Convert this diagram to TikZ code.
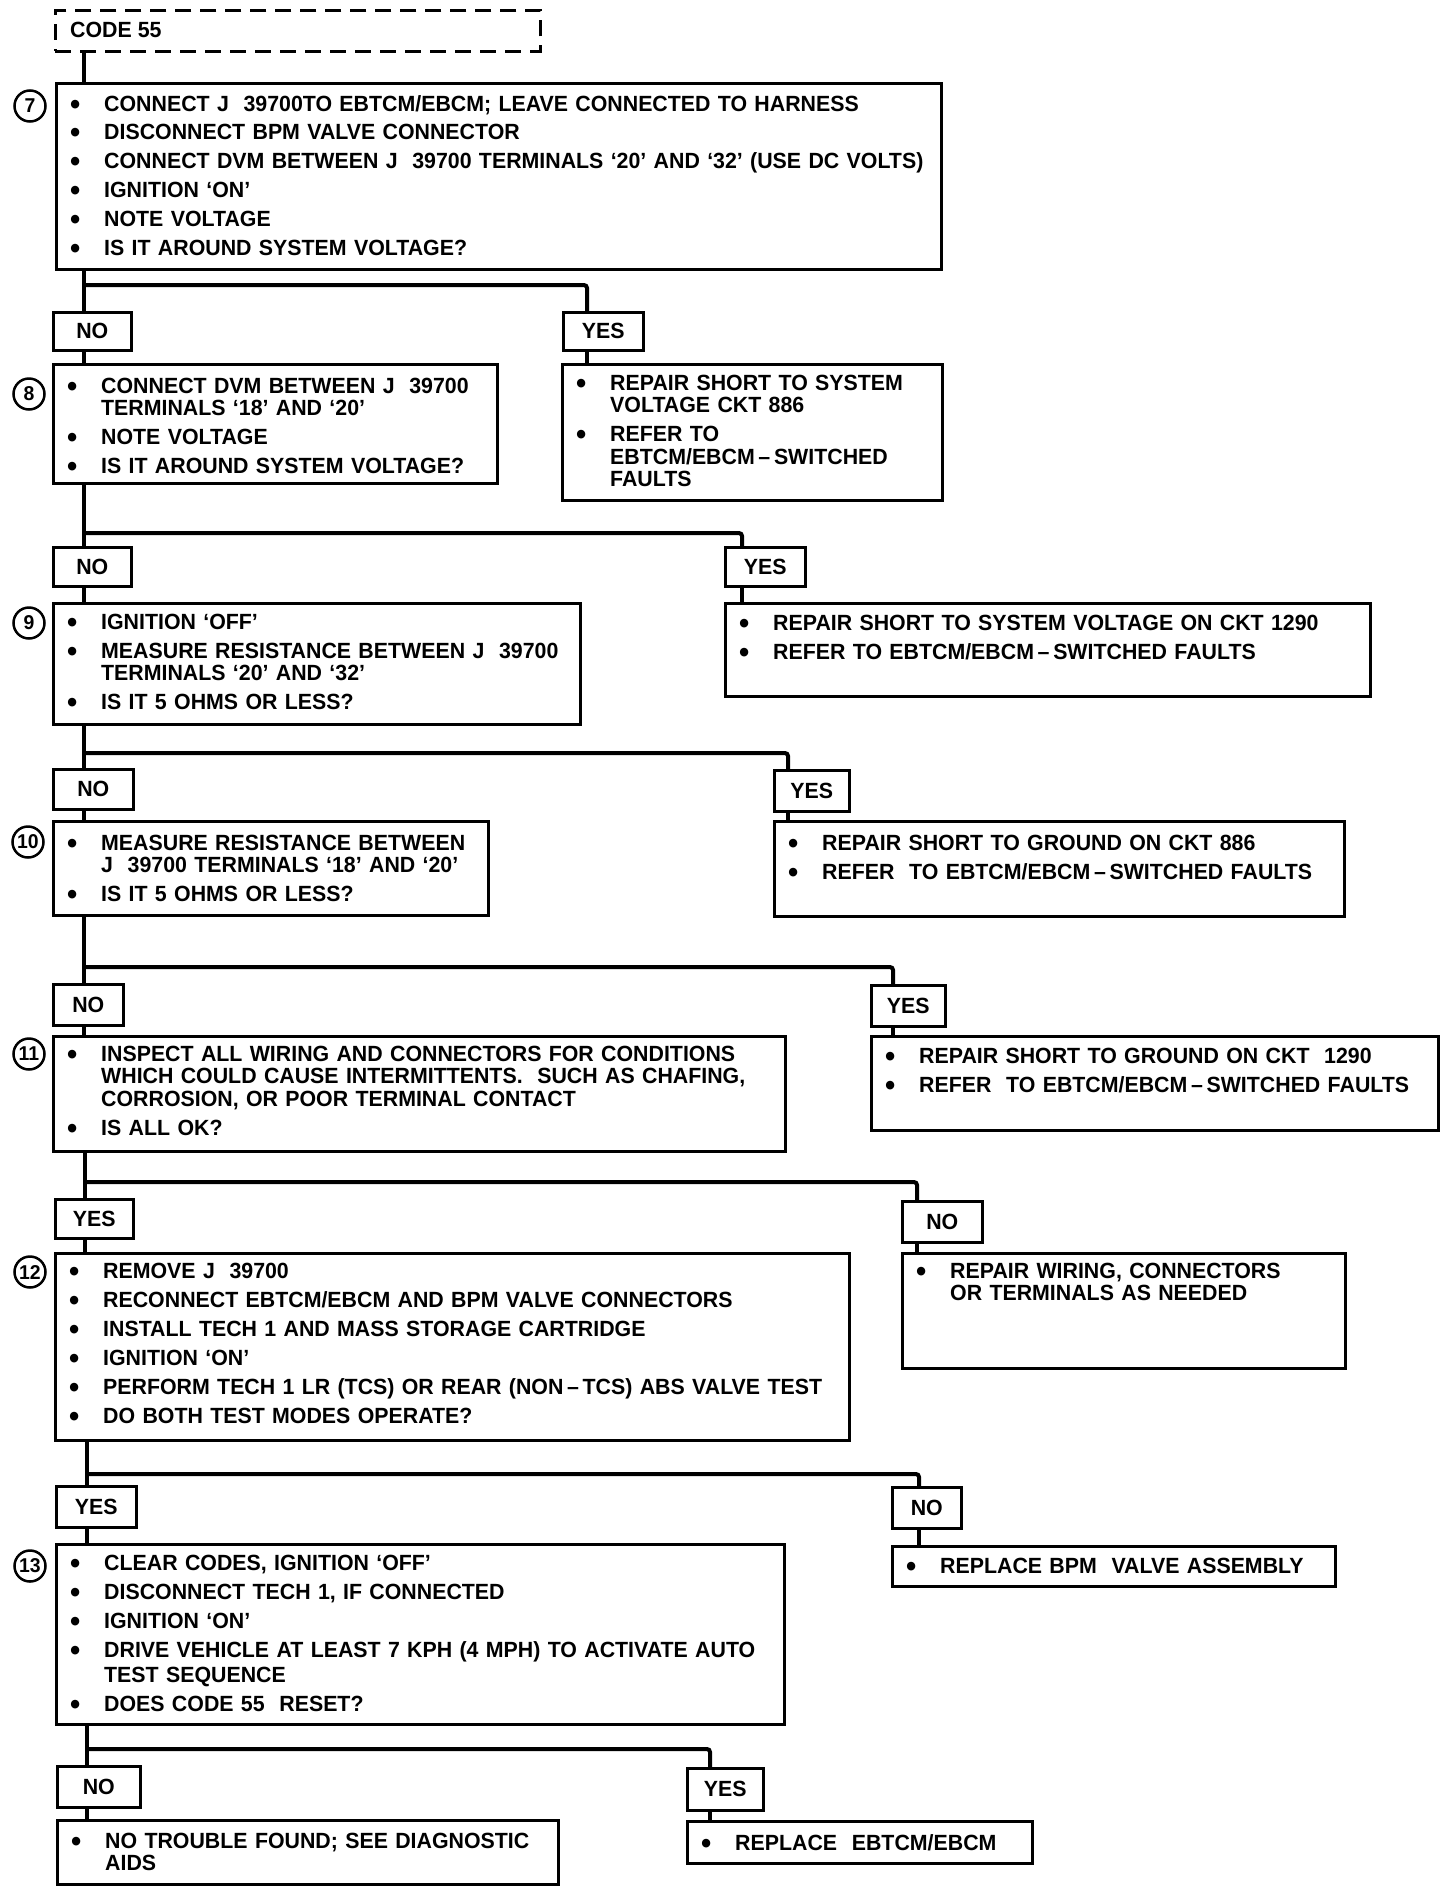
\documentclass[tikz,border=0pt]{standalone}
\usepackage{fontspec}
\setmainfont{Liberation Sans}[BoldFeatures={FakeStretch=0.97}]
\usetikzlibrary{calc}
\newcommand{\fcbul}{\makebox[34pt][l]{\raisebox{-3pt}{\fontsize{30}{22.5}\selectfont\textbullet}}}
\newcommand{\fcind}{\hspace*{34pt}}
\newcommand{\fcdash}{\,–\,}
\tikzset{
 box/.style={draw, line width=2.6pt, inner sep=0pt, anchor=north west, rectangle},
 lbl/.style={box, font=\fontsize{22}{22.5}\selectfont\bfseries},
 txt/.style={anchor=base west, inner sep=0pt, align=left, font=\fontsize{22}{22.5}\selectfont\bfseries},
 conn/.style={line width=4pt, rounded corners=3pt},
 num/.style={circle, draw, line width=2.5pt, minimum size=31pt, inner sep=0pt, font=\fontsize{20}{20}\selectfont\bfseries},
}
\newcommand{\fcbox}[5]{\node[box, minimum width=#4pt, minimum height=#5pt] (#1) at (#2,#3) {};}
\newcommand{\fclbl}[6]{\node[lbl, minimum width=#4pt, minimum height=#5pt] (#1) at (#2,#3) {#6};}
\newcommand{\fctxt}[5]{\node[txt, text width=#3pt] (#1) at ($(#2.north west)+(15,#4)$) {#5};}
\begin{document}
\begin{tikzpicture}[x=1pt, y=-1pt]
\useasboundingbox (0,0) rectangle (1456,1896);
\fill[white] (0,0) rectangle (1456,1896);

% start
\node[box, dash pattern=on 16pt off 9pt, minimum width=485pt, minimum height=41pt] (code) at (54,9) {};
\node[txt] (codet) at (70,37) {CODE 55};

% boxes
\fcbox{b7}{55}{82}{885}{186}
\fclbl{no1}{52}{311}{78}{38}{NO}
\fclbl{yes1}{562}{311}{80}{38}{YES}
\fcbox{b8}{52}{363}{444}{119}
\fcbox{r8}{561}{363}{380}{136}
\fclbl{no2}{52}{546}{78}{39}{NO}
\fclbl{yes2}{724}{546}{80}{39}{YES}
\fcbox{b9}{52}{602}{527}{121}
\fcbox{r9}{724}{602}{645}{93}
\fclbl{no3}{52}{768}{80}{40}{NO}
\fclbl{yes3}{773}{769}{75}{41}{YES}
\fcbox{b10}{52}{820}{435}{94}
\fcbox{r10}{773}{820}{570}{95}
\fclbl{no4}{52}{983}{70}{41}{NO}
\fclbl{yes4}{870}{984}{74}{41}{YES}
\fcbox{b11}{52}{1035}{732}{115}
\fcbox{r11}{870}{1035}{567}{94}
\fclbl{yes5}{54}{1198}{78}{39}{YES}
\fclbl{no5}{901}{1200}{80}{41}{NO}
\fcbox{b12}{54}{1252}{794}{187}
\fcbox{r12}{901}{1252}{443}{115}
\fclbl{yes6}{55}{1485}{80}{41}{YES}
\fclbl{no6}{891}{1486}{69}{41}{NO}
\fcbox{b13}{55}{1543}{728}{180}
\fcbox{r13}{891}{1545}{443}{40}
\fclbl{no7}{56}{1765}{83}{41}{NO}
\fclbl{yes7}{686}{1767}{76}{42}{YES}
\fcbox{ntf}{56}{1819}{501}{64}
\fcbox{rep}{686}{1820}{345}{42}

% step numbers
\node[num] (c7) at (30,106) {7};
\node[num] (c8) at (29,394) {8};
\node[num] (c9) at (29,623) {9};
\node[num] (c10) at (28,842) {10};
\node[num] (c11) at (29,1054) {11};
\node[num] (c12) at (30,1272) {12};
\node[num] (c13) at (30,1566) {13};

% texts
\fctxt{t7}{b7}{1000}{29}{\fcbul CONNECT J\ \ 39700TO EBTCM/EBCM; LEAVE CONNECTED TO HARNESS\\[6.3pt]
\fcbul DISCONNECT BPM VALVE CONNECTOR\\[6.3pt]
\fcbul CONNECT DVM BETWEEN J\ \ 39700 TERMINALS `20' AND `32' (USE DC VOLTS)\\[6.3pt]
\fcbul IGNITION `ON'\\[6.3pt]
\fcbul NOTE VOLTAGE\\[6.3pt]
\fcbul IS IT AROUND SYSTEM VOLTAGE?}
\fctxt{t8}{b8}{600}{30}{\fcbul CONNECT DVM BETWEEN J\ \ 39700\\
\fcind TERMINALS `18' AND `20'\\[6.5pt]
\fcbul NOTE VOLTAGE\\[6.5pt]
\fcbul IS IT AROUND SYSTEM VOLTAGE?}
\fctxt{tr8}{r8}{500}{27}{\fcbul REPAIR SHORT TO SYSTEM\\
\fcind VOLTAGE CKT 886\\[6.5pt]
\fcbul REFER TO\\
\fcind EBTCM/EBCM\fcdash SWITCHED\\
\fcind FAULTS}
\fctxt{t9}{b9}{700}{27}{\fcbul IGNITION `OFF'\\[6.5pt]
\fcbul MEASURE RESISTANCE BETWEEN J\ \ 39700\\
\fcind TERMINALS `20' AND `32'\\[6.5pt]
\fcbul IS IT 5 OHMS OR LESS?}
\fctxt{tr9}{r9}{800}{28}{\fcbul REPAIR SHORT TO SYSTEM VOLTAGE ON CKT 1290\\[6.5pt]
\fcbul REFER TO EBTCM/EBCM\fcdash SWITCHED FAULTS}
\fctxt{t10}{b10}{600}{30}{\fcbul MEASURE RESISTANCE BETWEEN\\
\fcind J\ \ 39700 TERMINALS `18' AND `20'\\[6.5pt]
\fcbul IS IT 5 OHMS OR LESS?}
\fctxt{tr10}{r10}{700}{30}{\fcbul REPAIR SHORT TO GROUND ON CKT 886\\[6.5pt]
\fcbul REFER\ \ TO EBTCM/EBCM\fcdash SWITCHED FAULTS}
\fctxt{t11}{b11}{900}{26}{\fcbul INSPECT ALL WIRING AND CONNECTORS FOR CONDITIONS\\
\fcind WHICH COULD CAUSE INTERMITTENTS.\ \ SUCH AS CHAFING,\\
\fcind CORROSION, OR POOR TERMINAL CONTACT\\[6.5pt]
\fcbul IS ALL OK?}
\fctxt{tr11}{r11}{700}{28}{\fcbul REPAIR SHORT TO GROUND ON CKT\ \ 1290\\[6.5pt]
\fcbul REFER\ \ TO EBTCM/EBCM\fcdash SWITCHED FAULTS}
\fctxt{t12}{b12}{950}{26}{\fcbul REMOVE J\ \ 39700\\[6.5pt]
\fcbul RECONNECT EBTCM/EBCM AND BPM VALVE CONNECTORS\\[6.5pt]
\fcbul INSTALL TECH 1 AND MASS STORAGE CARTRIDGE\\[6.5pt]
\fcbul IGNITION `ON'\\[6.5pt]
\fcbul PERFORM TECH 1 LR (TCS) OR REAR (NON\fcdash TCS) ABS VALVE TEST\\[6.5pt]
\fcbul DO BOTH TEST MODES OPERATE?}
\fctxt{tr12}{r12}{550}{26}{\fcbul REPAIR WIRING, CONNECTORS\\
\fcind OR TERMINALS AS NEEDED}
\fctxt{t13}{b13}{900}{27}{\fcbul CLEAR CODES, IGNITION `OFF'\\[6.5pt]
\fcbul DISCONNECT TECH 1, IF CONNECTED\\[6.5pt]
\fcbul IGNITION `ON'\\[6.5pt]
\fcbul DRIVE VEHICLE AT LEAST 7 KPH (4 MPH) TO ACTIVATE AUTO\\[3pt]
\fcind TEST SEQUENCE\\[6.5pt]
\fcbul DOES CODE 55\ \ RESET?}
\fctxt{tr13}{r13}{550}{28}{\fcbul REPLACE BPM\ \ VALVE ASSEMBLY}
\fctxt{tntf}{ntf}{650}{29}{\fcbul NO TROUBLE FOUND; SEE DIAGNOSTIC\\
\fcind AIDS}
\fctxt{trep}{rep}{450}{30}{\fcbul REPLACE\ \ EBTCM/EBCM}

% junctions
\coordinate (j1) at (84,285);  \coordinate (k1) at (587,285);
\coordinate (j2) at (84,533);  \coordinate (k2) at (742,533);
\coordinate (j3) at (84,753);  \coordinate (k3) at (788,753);
\coordinate (j4) at (84,967);  \coordinate (k4) at (893,967);
\coordinate (j5) at (85,1182); \coordinate (k5) at (917,1182);
\coordinate (j6) at (87,1474); \coordinate (k6) at (919,1474);
\coordinate (j7) at (87,1749); \coordinate (k7) at (710,1749);

% connectors
\draw[conn] (code.south -| j1) -- (b7.north -| j1);
\draw[conn] (b7.south -| j1) -- (no1.north -| j1);
\draw[conn] (j1) -- (k1) -- (yes1.north -| k1);
\draw[conn] (yes1.south -| k1) -- (r8.north -| k1);
\draw[conn] (no1.south -| j1) -- (b8.north -| j1);

\draw[conn] (b8.south -| j2) -- (no2.north -| j2);
\draw[conn] (j2) -- (k2) -- (yes2.north -| k2);
\draw[conn] (yes2.south -| k2) -- (r9.north -| k2);
\draw[conn] (no2.south -| j2) -- (b9.north -| j2);

\draw[conn] (b9.south -| j3) -- (no3.north -| j3);
\draw[conn] (j3) -- (k3) -- (yes3.north -| k3);
\draw[conn] (yes3.south -| k3) -- (r10.north -| k3);
\draw[conn] (no3.south -| j3) -- (b10.north -| j3);

\draw[conn] (b10.south -| j4) -- (no4.north -| j4);
\draw[conn] (j4) -- (k4) -- (yes4.north -| k4);
\draw[conn] (yes4.south -| k4) -- (r11.north -| k4);
\draw[conn] (no4.south -| j4) -- (b11.north -| j4);

\draw[conn] (b11.south -| j5) -- (yes5.north -| j5);
\draw[conn] (j5) -- (k5) -- (no5.north -| k5);
\draw[conn] (no5.south -| k5) -- (r12.north -| k5);
\draw[conn] (yes5.south -| j5) -- (b12.north -| j5);

\draw[conn] (b12.south -| j6) -- (yes6.north -| j6);
\draw[conn] (j6) -- (k6) -- (no6.north -| k6);
\draw[conn] (no6.south -| k6) -- (r13.north -| k6);
\draw[conn] (yes6.south -| j6) -- (b13.north -| j6);

\draw[conn] (b13.south -| j7) -- (no7.north -| j7);
\draw[conn] (j7) -- (k7) -- (yes7.north -| k7);
\draw[conn] (yes7.south -| k7) -- (rep.north -| k7);
\draw[conn] (no7.south -| j7) -- (ntf.north -| j7);
\end{tikzpicture}
\end{document}
